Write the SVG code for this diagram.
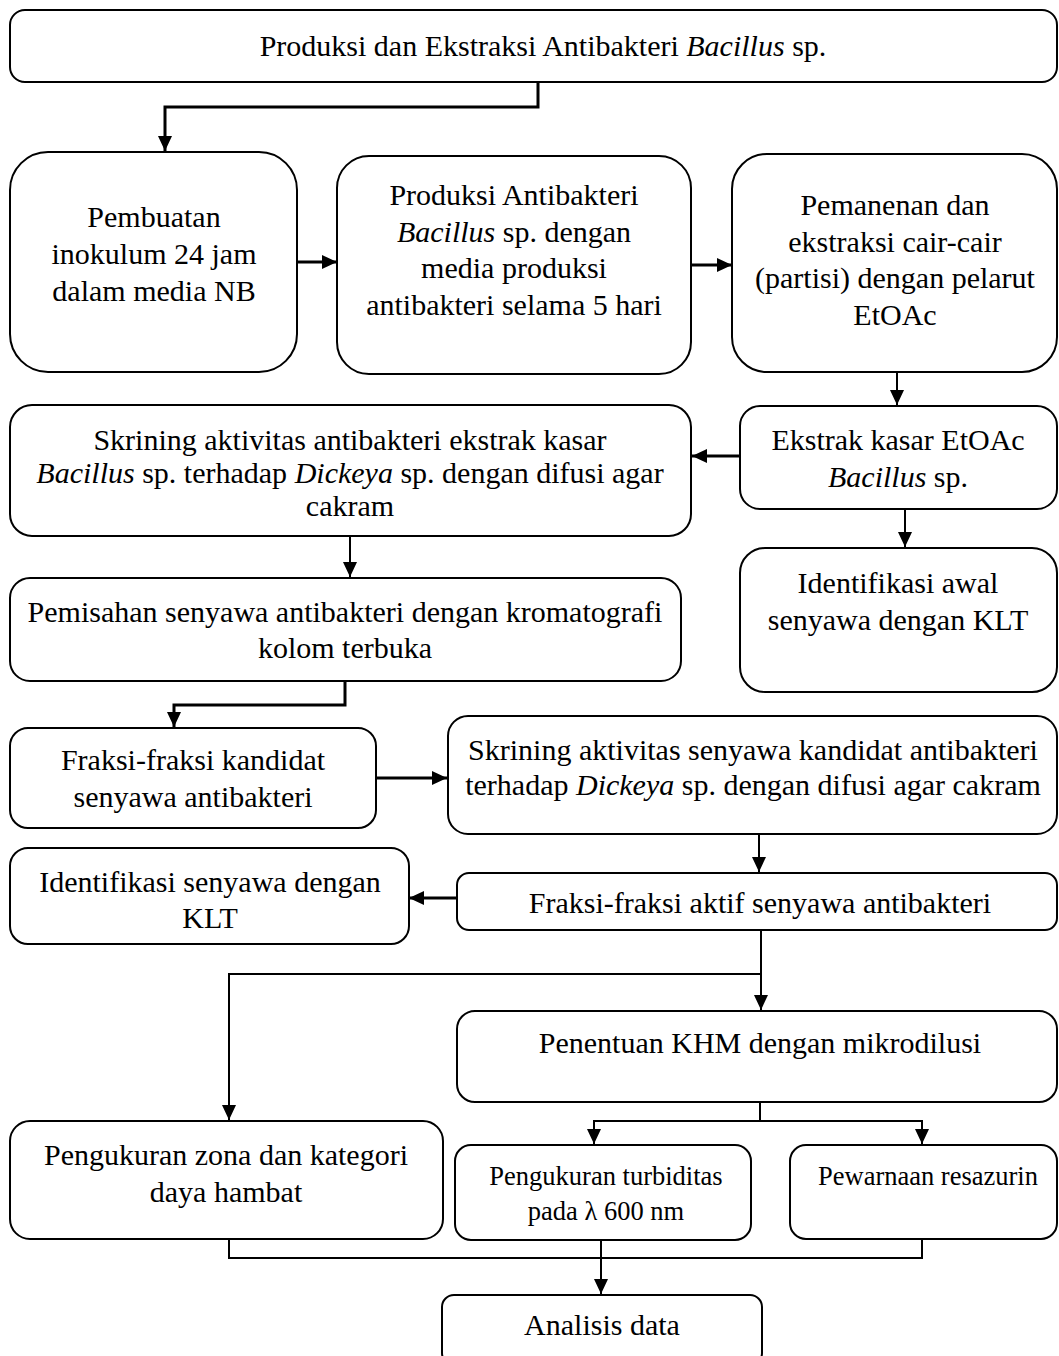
<svg xmlns="http://www.w3.org/2000/svg" width="1059" height="1356" viewBox="0 0 1059 1356">
<style>
.box{fill:#fff;stroke:#000;stroke-width:2}
text{font-family:'Liberation Serif','Times New Roman',serif;font-size:30px;fill:#000;text-anchor:middle}
text.s{font-size:26.5px}
.c{fill:none;stroke:#000;stroke-width:2}
.c3{fill:none;stroke:#000;stroke-width:3}
</style>
<defs>
<marker id="ah" markerUnits="userSpaceOnUse" markerWidth="16" markerHeight="14" refX="15" refY="7" orient="auto" viewBox="0 0 16 14">
<path d="M0,0 L15,7 L0,14 z" fill="#000"/>
</marker>
</defs>
<rect width="1059" height="1356" fill="#fff"/>
<g id="connectors">
<path class="c3" d="M538,82 V107 H165 V151" marker-end="url(#ah)"/>
<path class="c3" d="M297,262 H337" marker-end="url(#ah)"/>
<path class="c3" d="M691,265 H732" marker-end="url(#ah)"/>
<path class="c" d="M897,372 V405" marker-end="url(#ah)"/>
<path class="c3" d="M740,456 H692" marker-end="url(#ah)"/>
<path class="c" d="M350,536 V577" marker-end="url(#ah)"/>
<path class="c" d="M905,509 V547" marker-end="url(#ah)"/>
<path class="c3" d="M345,681 V705 H174 V727" marker-end="url(#ah)"/>
<path class="c3" d="M376,778 H447" marker-end="url(#ah)"/>
<path class="c" d="M759,834 V872" marker-end="url(#ah)"/>
<path class="c3" d="M457,898 H409" marker-end="url(#ah)"/>
<path class="c" d="M761,930 V1010" marker-end="url(#ah)"/>
<path class="c" d="M761,974 H229 V1120" marker-end="url(#ah)"/>
<path class="c" d="M760,1102 V1121 H594 V1144" marker-end="url(#ah)"/>
<path class="c" d="M760,1121 H922 V1144" marker-end="url(#ah)"/>
<path class="c" d="M229,1239 V1258 H922 V1240"/>
<path class="c" d="M601,1240 V1294" marker-end="url(#ah)"/>
</g>
<g id="n1"><rect class="box" x="10" y="10" width="1047" height="72" rx="15"/>
<text x="543" y="56">Produksi dan Ekstraksi Antibakteri <tspan font-style="italic">Bacillus</tspan> sp.</text></g>
<g id="n2"><rect class="box" x="10" y="152" width="287" height="220" rx="38"/>
<text x="154" y="227">Pembuatan</text>
<text x="154" y="264">inokulum 24 jam</text>
<text x="154" y="301">dalam media NB</text></g>
<g id="n3"><rect class="box" x="337" y="156" width="354" height="218" rx="32"/>
<text x="514" y="205">Produksi Antibakteri</text>
<text x="514" y="242"><tspan font-style="italic">Bacillus</tspan> sp. dengan</text>
<text x="514" y="278">media produksi</text>
<text x="514" y="315">antibakteri selama 5 hari</text></g>
<g id="n4"><rect class="box" x="732" y="154" width="325" height="218" rx="35"/>
<text x="895" y="215">Pemanenan dan</text>
<text x="895" y="252">ekstraksi cair-cair</text>
<text x="895" y="288">(partisi) dengan pelarut</text>
<text x="895" y="325">EtOAc</text></g>
<g id="n5"><rect class="box" x="740" y="406" width="317" height="103" rx="20"/>
<text x="898" y="450">Ekstrak kasar EtOAc</text>
<text x="898" y="487"><tspan font-style="italic">Bacillus</tspan> sp.</text></g>
<g id="n6"><rect class="box" x="10" y="405" width="681" height="131" rx="22"/>
<text x="350" y="450">Skrining aktivitas antibakteri ekstrak kasar</text>
<text x="350" y="483"><tspan font-style="italic">Bacillus</tspan> sp. terhadap <tspan font-style="italic">Dickeya</tspan> sp. dengan difusi agar</text>
<text x="350" y="516">cakram</text></g>
<g id="n7"><rect class="box" x="10" y="578" width="671" height="103" rx="20"/>
<text x="345" y="622">Pemisahan senyawa antibakteri dengan kromatografi</text>
<text x="345" y="658">kolom terbuka</text></g>
<g id="n8"><rect class="box" x="740" y="548" width="317" height="144" rx="25"/>
<text x="898" y="593">Identifikasi awal</text>
<text x="898" y="630">senyawa dengan KLT</text></g>
<g id="n9"><rect class="box" x="10" y="728" width="366" height="100" rx="18"/>
<text x="193" y="770">Fraksi-fraksi kandidat</text>
<text x="193" y="807">senyawa antibakteri</text></g>
<g id="n10"><rect class="box" x="448" y="716" width="609" height="118" rx="20"/>
<text x="753" y="760">Skrining aktivitas senyawa kandidat antibakteri</text>
<text x="753" y="795">terhadap <tspan font-style="italic">Dickeya</tspan> sp. dengan difusi agar cakram</text></g>
<g id="n11"><rect class="box" x="457" y="873" width="600" height="57" rx="12"/>
<text x="760" y="913">Fraksi-fraksi aktif senyawa antibakteri</text></g>
<g id="n12"><rect class="box" x="10" y="848" width="399" height="96" rx="18"/>
<text x="210" y="892">Identifikasi senyawa dengan</text>
<text x="210" y="928">KLT</text></g>
<g id="n13"><rect class="box" x="457" y="1011" width="600" height="91" rx="18"/>
<text x="760" y="1053">Penentuan KHM dengan mikrodilusi</text></g>
<g id="n14"><rect class="box" x="10" y="1121" width="433" height="118" rx="20"/>
<text x="226" y="1165">Pengukuran zona dan kategori</text>
<text x="226" y="1202">daya hambat</text></g>
<g id="n15"><rect class="box" x="455" y="1145" width="296" height="95" rx="16"/>
<text class="s" x="606" y="1185">Pengukuran turbiditas</text>
<text class="s" x="606" y="1220">pada λ 600 nm</text></g>
<g id="n16"><rect class="box" x="790" y="1145" width="267" height="94" rx="16"/>
<text class="s" x="928" y="1185">Pewarnaan resazurin</text></g>
<g id="n17"><rect class="box" x="442" y="1295" width="320" height="70" rx="12"/>
<text x="602" y="1335">Analisis data</text></g>
</svg>
